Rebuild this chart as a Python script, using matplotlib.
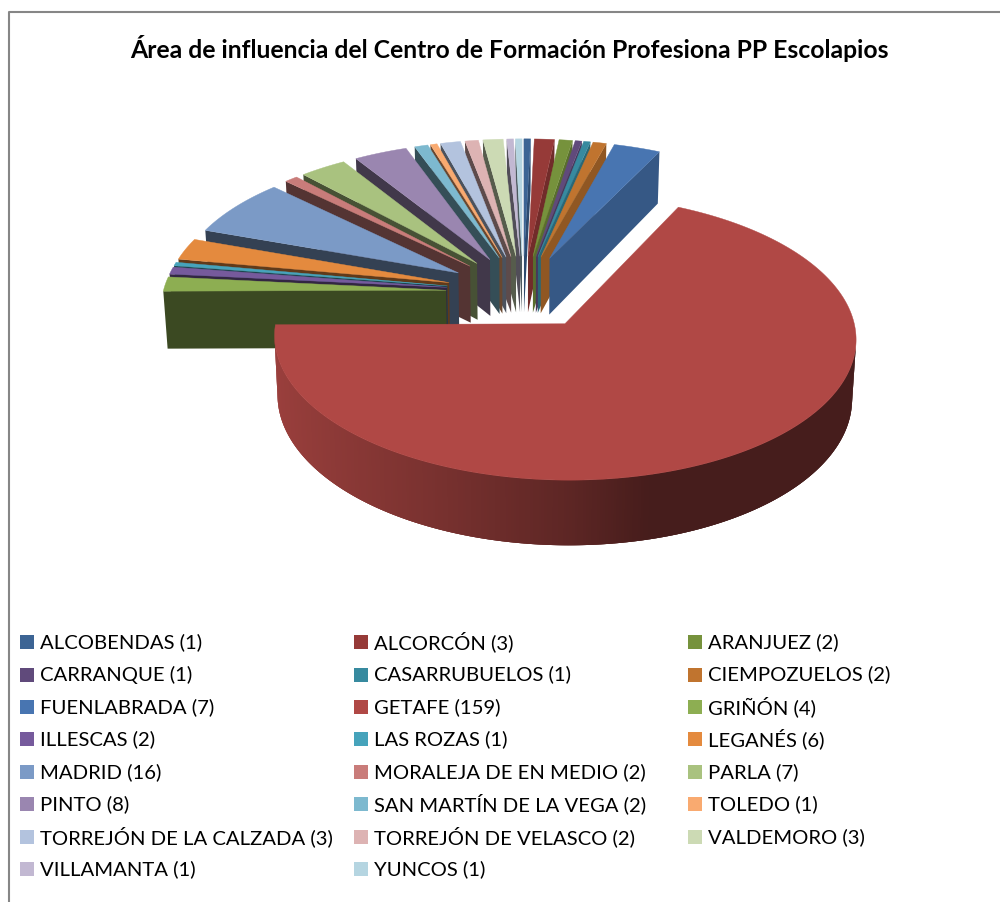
"""Exploded 3D pie of the Centro de Formacion area of influence, drawn by hand."""

import matplotlib
matplotlib.use("Agg")
import matplotlib.pyplot as plt
import numpy as np
from matplotlib.patches import Polygon, Rectangle

plt.rcParams["font.family"] = ["Lato", "DejaVu Sans"]

TITLE = "Área de influencia del Centro de Formación Profesiona PP Escolapios"

towns = [
    "ALCOBENDAS", "ALCORCÓN", "ARANJUEZ", "CARRANQUE", "CASARRUBUELOS",
    "CIEMPOZUELOS", "FUENLABRADA", "GETAFE", "GRIÑÓN", "ILLESCAS", "LAS ROZAS",
    "LEGANÉS", "MADRID", "MORALEJA DE EN MEDIO", "PARLA", "PINTO",
    "SAN MARTÍN DE LA VEGA", "TOLEDO", "TORREJÓN DE LA CALZADA",
    "TORREJÓN DE VELASCO", "VALDEMORO", "VILLAMANTA", "YUNCOS",
]
students = [1, 3, 2, 1, 1, 2, 7, 159, 4, 2, 1, 6, 16, 2, 7, 8, 2, 1, 3, 2, 3, 1, 1]
colors = [
    "#3c6494", "#963a38", "#76923c", "#604a7b", "#378a9f", "#c0742f",
    "#4875b1", "#b04845", "#8dae52", "#765a9c", "#46a3bb", "#e48a3e",
    "#7b9ac6", "#c97c7a", "#a9c27f", "#9a86b0", "#7db9cf", "#f9aa70",
    "#b3c3de", "#ddb3b3", "#ccdab4", "#c2b8d2", "#b5d5e1",
]

# projection of the pie, all in pixels of the final image
CX, CY = 523, 292
RADIUS = 283
EXPLODE = 77
THICK = 57.5
TILT = 0.477
PERSP = 0.000337
BOTTOM_SHRINK = 0.988


def project(X, Y, bottom=False):
    w = 1 + PERSP * Y
    x = X / w
    y = TILT * -Y / w
    if bottom:
        y += THICK / w
        x *= BOTTOM_SHRINK
    return CX + x, CY + y


def shade(color, f):
    rgb = np.array(matplotlib.colors.to_rgb(color))
    return tuple(rgb * f)


def side_factor(theta):
    # lighter on the left of the pie, flat dark from just right of the front
    return np.interp(np.sin(theta), [-1, -0.7, -0.4, 0, 0.25, 1],
                     [0.88, 0.78, 0.68, 0.53, 0.40, 0.40])


def face(ax, p, q, color):
    """Side quad under the edge p -> q, drawn only if it looks at the viewer."""
    a = project(*p)
    b = project(*q)
    c = project(*q, bottom=True)
    d = project(*p, bottom=True)
    pts = np.array([a, b, c, d])
    x, y = pts[:, 0], pts[:, 1]
    area = np.sum(x * np.roll(y, -1) - np.roll(x, -1) * y) / 2
    if area < 0:
        ax.add_patch(Polygon(pts, closed=True, fc=color, ec="none"))


def draw_slice(ax, start, end, color):
    mid = (start + end) / 2
    ox = EXPLODE * np.sin(mid)
    oy = EXPLODE * np.cos(mid)
    n = max(3, int(np.degrees(end - start) * 2))
    thetas = np.linspace(start, end, n)
    rim = [(ox + RADIUS * np.sin(t), oy + RADIUS * np.cos(t)) for t in thetas]
    apex = (ox, oy)

    face(ax, apex, rim[0], shade(color, 0.42))
    face(ax, rim[-1], apex, shade(color, 0.75))
    # strips overlap the next one so no seams show in the gradient
    for i in range(n - 2, -1, -1):
        f = side_factor((thetas[i] + thetas[i + 1]) / 2)
        face(ax, rim[max(i - 2, 0)], rim[i + 1], shade(color, f))

    top = [project(*apex)] + [project(*p) for p in rim]
    ax.add_patch(Polygon(top, closed=True, fc=color, ec=color, lw=0.3))


def main():
    fig = plt.figure(figsize=(10, 9.02), dpi=100)
    ax = fig.add_axes([0, 0, 1, 1])
    ax.set_xlim(0, 1000)
    ax.set_ylim(902, 0)
    ax.axis("off")

    ax.plot([9, 9, 1000], [902, 12, 12], color="#868686", lw=1.5)
    ax.text(509, 49, TITLE, ha="center", va="center", fontsize=17.85, fontweight="bold")

    # slices run clockwise from 12 o'clock, painted far to near
    values = np.array(students, dtype=float)
    edges = np.concatenate([[0], np.cumsum(values)]) / values.sum() * 2 * np.pi
    mids = (edges[:-1] + edges[1:]) / 2
    for i in np.argsort(-np.cos(mids)):
        draw_slice(ax, edges[i], edges[i + 1], colors[i])

    # legend, three columns filled row by row
    col_x = [20, 354, 688]
    row_y = [642, 674.5, 707, 739, 772, 804, 837, 869]
    for i, (name, val) in enumerate(zip(towns, students)):
        row, col = divmod(i, 3)
        x, y = col_x[col], row_y[row]
        ax.add_patch(Rectangle((x, y - 7), 14, 14, fc=colors[i], ec="none"))
        ax.text(x + 20, y, f"{name} ({val})", ha="left", va="center", fontsize=14.6,
                color="#000000")

    fig.savefig("out.png", dpi=100)


if __name__ == "__main__":
    main()
